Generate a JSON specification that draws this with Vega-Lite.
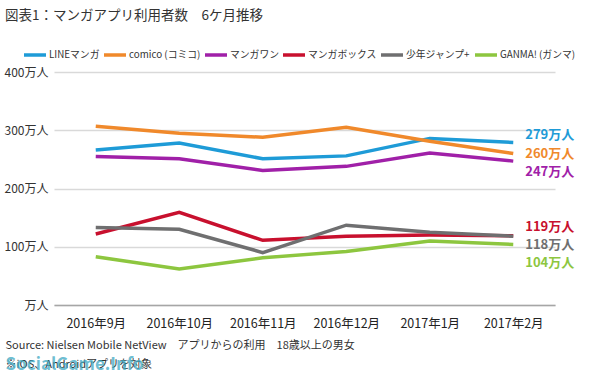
{
  "$schema": "https://vega.github.io/schema/vega-lite/v6.json",
  "autosize": "none",
  "width": 501,
  "height": 233,
  "padding": {"left": 54, "top": 72, "right": 40, "bottom": 71},
  "background": "white",
  "config": {
    "font": "Noto Sans CJK JP",
    "view": {"stroke": null}
  },
  "title": {
    "text": "図表1：マンガアプリ利用者数　6ケ月推移",
    "anchor": "start",
    "frame": "group",
    "orient": "top",
    "fontSize": 13.5,
    "fontWeight": "normal",
    "color": "#333333",
    "dx": -49,
    "offset": 20
  },
  "data": {
    "values": [
      {"month": "2016年9月", "series": "LINEマンガ", "value": 266},
      {"month": "2016年10月", "series": "LINEマンガ", "value": 278},
      {"month": "2016年11月", "series": "LINEマンガ", "value": 251},
      {"month": "2016年12月", "series": "LINEマンガ", "value": 256},
      {"month": "2017年1月", "series": "LINEマンガ", "value": 286},
      {"month": "2017年2月", "series": "LINEマンガ", "value": 279},
      {"month": "2016年9月", "series": "comico (コミコ)", "value": 307},
      {"month": "2016年10月", "series": "comico (コミコ)", "value": 295},
      {"month": "2016年11月", "series": "comico (コミコ)", "value": 288},
      {"month": "2016年12月", "series": "comico (コミコ)", "value": 305},
      {"month": "2017年1月", "series": "comico (コミコ)", "value": 281},
      {"month": "2017年2月", "series": "comico (コミコ)", "value": 260},
      {"month": "2016年9月", "series": "マンガワン", "value": 255},
      {"month": "2016年10月", "series": "マンガワン", "value": 251},
      {"month": "2016年11月", "series": "マンガワン", "value": 231},
      {"month": "2016年12月", "series": "マンガワン", "value": 238},
      {"month": "2017年1月", "series": "マンガワン", "value": 261},
      {"month": "2017年2月", "series": "マンガワン", "value": 247},
      {"month": "2016年9月", "series": "マンガボックス", "value": 122},
      {"month": "2016年10月", "series": "マンガボックス", "value": 159},
      {"month": "2016年11月", "series": "マンガボックス", "value": 111},
      {"month": "2016年12月", "series": "マンガボックス", "value": 118},
      {"month": "2017年1月", "series": "マンガボックス", "value": 120},
      {"month": "2017年2月", "series": "マンガボックス", "value": 119},
      {"month": "2016年9月", "series": "少年ジャンプ+", "value": 133},
      {"month": "2016年10月", "series": "少年ジャンプ+", "value": 130},
      {"month": "2016年11月", "series": "少年ジャンプ+", "value": 90},
      {"month": "2016年12月", "series": "少年ジャンプ+", "value": 137},
      {"month": "2017年1月", "series": "少年ジャンプ+", "value": 125},
      {"month": "2017年2月", "series": "少年ジャンプ+", "value": 118},
      {"month": "2016年9月", "series": "GANMA! (ガンマ)", "value": 83},
      {"month": "2016年10月", "series": "GANMA! (ガンマ)", "value": 62},
      {"month": "2016年11月", "series": "GANMA! (ガンマ)", "value": 81},
      {"month": "2016年12月", "series": "GANMA! (ガンマ)", "value": 92},
      {"month": "2017年1月", "series": "GANMA! (ガンマ)", "value": 110},
      {"month": "2017年2月", "series": "GANMA! (ガンマ)", "value": 104}
    ]
  },
  "encoding": {
    "x": {
      "field": "month",
      "type": "ordinal",
      "sort": null,
      "scale": {"type": "point", "padding": 0.5},
      "axis": {
        "title": ["Source: Nielsen Mobile NetView　アプリからの利用　18歳以上の男女", "※iOS、Androidアプリを対象"],
        "titleFontSize": 11,
        "titleFontWeight": "normal",
        "titleColor": "#333333",
        "titleAlign": "left",
        "titleAnchor": "start",
        "titleBaseline": "top",
        "titleLineHeight": 19,
        "titleX": -49,
        "titleY": 34,
        "labelAngle": 0,
        "labelFontSize": 12.5,
        "labelColor": "#222222",
        "labelPadding": 12,
        "ticks": false,
        "domainColor": "#a6a6a6",
        "domainWidth": 1.5,
        "grid": false
      }
    },
    "y": {
      "field": "value",
      "type": "quantitative",
      "scale": {"domain": [0, 400]},
      "axis": {
        "values": [0, 100, 200, 300, 400],
        "labelExpr": "datum.value == 0 ? '万人' : datum.value + '万人'",
        "labelFontSize": 12,
        "labelColor": "#333333",
        "labelPadding": 6,
        "ticks": false,
        "domain": false,
        "gridColor": "#d9d9d9",
        "gridWidth": 1.5,
        "title": "SocialGame.Info",
        "titleAngle": 0,
        "titleX": -49,
        "titleY": 284,
        "titleAlign": "left",
        "titleBaseline": "top",
        "titleFontSize": 17,
        "titleFontWeight": "bold",
        "titleColor": "#3fa9c4",
        "titleOpacity": 0.75
      }
    },
    "color": {
      "field": "series",
      "type": "nominal",
      "scale": {
        "domain": ["LINEマンガ", "comico (コミコ)", "マンガワン", "マンガボックス", "少年ジャンプ+", "GANMA! (ガンマ)"],
        "range": ["#1e9bd7", "#f0892b", "#a020a8", "#c8102e", "#6f6f70", "#8dc63f"]
      },
      "legend": {
        "title": null,
        "orient": "none",
        "direction": "horizontal",
        "legendX": -32,
        "legendY": -30,
        "symbolType": "stroke",
        "symbolStrokeWidth": 3.5,
        "symbolSize": 484,
        "labelFontSize": 9.8,
        "labelColor": "#333333",
        "labelOffset": 1,
        "columnPadding": -3
      }
    }
  },
  "layer": [
    {
      "mark": {"type": "line", "strokeWidth": 3.5},
      "encoding": {"detail": {"field": "series"}}
    },
    {
      "transform": [{"filter": "datum.month == '2017年2月' && datum.series == 'LINEマンガ'"}, {"calculate": "datum.value + '万人'", "as": "label"}],
      "mark": {"type": "text", "align": "left", "baseline": "middle", "dx": 12, "dy": -7, "fontSize": 13, "fontWeight": "bold"},
      "encoding": {"text": {"field": "label"}, "color": {"field": "series", "type": "nominal", "legend": null}}
    },
    {
      "transform": [{"filter": "datum.month == '2017年2月' && datum.series == 'comico (コミコ)'"}, {"calculate": "datum.value + '万人'", "as": "label"}],
      "mark": {"type": "text", "align": "left", "baseline": "middle", "dx": 12, "dy": 0, "fontSize": 13, "fontWeight": "bold"},
      "encoding": {"text": {"field": "label"}, "color": {"field": "series", "type": "nominal", "legend": null}}
    },
    {
      "transform": [{"filter": "datum.month == '2017年2月' && datum.series == 'マンガワン'"}, {"calculate": "datum.value + '万人'", "as": "label"}],
      "mark": {"type": "text", "align": "left", "baseline": "middle", "dx": 12, "dy": 11, "fontSize": 13, "fontWeight": "bold"},
      "encoding": {"text": {"field": "label"}, "color": {"field": "series", "type": "nominal", "legend": null}}
    },
    {
      "transform": [{"filter": "datum.month == '2017年2月' && datum.series == 'マンガボックス'"}, {"calculate": "datum.value + '万人'", "as": "label"}],
      "mark": {"type": "text", "align": "left", "baseline": "middle", "dx": 12, "dy": -9, "fontSize": 13, "fontWeight": "bold"},
      "encoding": {"text": {"field": "label"}, "color": {"field": "series", "type": "nominal", "legend": null}}
    },
    {
      "transform": [{"filter": "datum.month == '2017年2月' && datum.series == '少年ジャンプ+'"}, {"calculate": "datum.value + '万人'", "as": "label"}],
      "mark": {"type": "text", "align": "left", "baseline": "middle", "dx": 12, "dy": 9, "fontSize": 13, "fontWeight": "bold"},
      "encoding": {"text": {"field": "label"}, "color": {"field": "series", "type": "nominal", "legend": null}}
    },
    {
      "transform": [{"filter": "datum.month == '2017年2月' && datum.series == 'GANMA! (ガンマ)'"}, {"calculate": "datum.value + '万人'", "as": "label"}],
      "mark": {"type": "text", "align": "left", "baseline": "middle", "dx": 12, "dy": 19, "fontSize": 13, "fontWeight": "bold"},
      "encoding": {"text": {"field": "label"}, "color": {"field": "series", "type": "nominal", "legend": null}}
    }
  ]
}
